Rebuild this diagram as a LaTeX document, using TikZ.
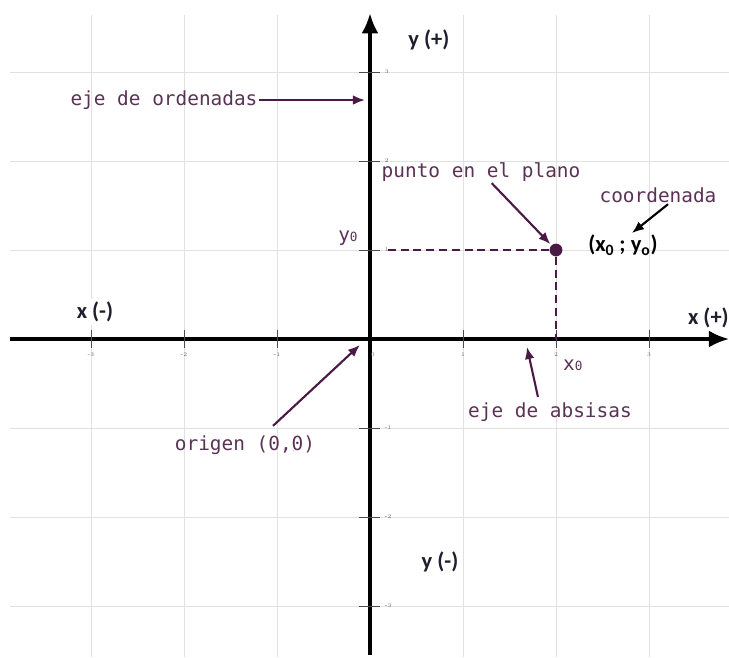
\documentclass[tikz,border=0pt]{standalone}
\usepackage{fontspec}
\setmonofont{DejaVu Sans Mono}
\setsansfont{Carlito}
\usetikzlibrary{arrows.meta, positioning}
\definecolor{DarkPurple}{RGB}{75,25,70}
\definecolor{SoftPurple}{RGB}{90,50,85}
\definecolor{GridGray}{RGB}{225,225,225}
\definecolor{DarkSlate}{RGB}{30,30,45}

\begin{document}
\begin{tikzpicture}[x=2.325cm, y=2.225cm,
    etiqueta/.style={font=\ttfamily\fontsize{13.8}{16}\selectfont, text=SoftPurple, inner sep=1pt},
    signo/.style={font=\sffamily\bfseries\fontsize{16}{19}\selectfont, text=DarkSlate, fill=white, inner sep=2pt},
    flecha/.style={DarkPurple, line width=1.5pt, -{Latex[length=3mm, width=2.4mm]}},
    eje/.style={black, line width=2.2pt, -{Latex[length=5mm, width=4.2mm]}},
    marca/.style={font=\fontsize{4}{4}\selectfont, text=black!60, inner sep=0.5pt}]

\useasboundingbox (-3.978,-3.573) rectangle (3.860,3.809);

% cuadricula
\foreach \k in {-3,-2,-1,1,2,3}{
    \draw[GridGray, line width=0.6pt] (\k,-3.573) -- (\k,3.64);
    \draw[GridGray, line width=0.6pt] (-3.87,\k) -- (3.86,\k);
}

% ejes
\draw[eje] (-3.87,0) -- (3.86,0);
\draw[eje] (0,-3.55) -- (0,3.66);
\foreach \k in {-3,-2,-1,1,2,3}{
    \draw[black!70, line width=0.5pt] (\k,-0.1) -- (\k,0.1);
    \node[marca] (tx\k) at (\k,-0.18) {\k};
    \draw[black!70, line width=0.5pt] (-0.12,\k) -- (0.11,\k);
    \node[marca, anchor=west] (ty\k) at (0.15,\k) {\k};
}
\node[marca] (t0) at (0.03,-0.18) {0};

\node[signo] (ymas) at (0.634,3.36) {y (+)};
\node[signo] (ymenos) at (0.753,-2.506) {y (-)};
\node[signo] (xmenos) at (-2.957,0.303) {x (-)};
\node[signo, anchor=east, inner sep=0pt] (xmas) at (3.86,0.236) {x (+)};

% punto
\node[circle, fill=DarkPurple, inner sep=0pt, minimum size=3.2mm] (punto) at (2,1) {};
\coordinate (piey) at (0.16,1);
\coordinate (piex) at (2,0);
\draw[DarkPurple, line width=1.3pt, dash pattern=on 2mm off 1.2mm] (punto) -- (piey);
\draw[DarkPurple, line width=1.3pt, dash pattern=on 2mm off 1.2mm] (punto) -- (piex);
\node[etiqueta] (y0) at (-0.237,1.13) {y{\small 0}};
\node[etiqueta] (x0) at (2.18,-0.30) {x{\small 0}};

% etiquetas
\node[etiqueta] (ordenadas) at (-2.215,2.685) {eje de ordenadas};
\coordinate (ordenadas-fin) at (-0.054,2.685);
\draw[flecha] (ordenadas.east) -- (ordenadas-fin);

\node[etiqueta] (plano) at (1.194,1.876) {punto en el plano};
\draw[flecha, shorten >=1pt] (plano) -- (punto);

\node[etiqueta] (coordenada) at (3.097,1.618) {coordenada};
\coordinate (coordenada-fin) at (2.817,1.191);
\draw[flecha, black] ([xshift=2.5mm]coordenada.south) -- (coordenada-fin);
\node[font=\sffamily\bfseries\fontsize{16}{19}\selectfont, text=black] (par) at (2.72,1.056)
    {(x\textsubscript{0} ; y\textsubscript{o})};

\node[etiqueta] (origen) at (-1.344,-1.191) {origen (0,0)};
\coordinate (origen-fin) at (-0.108,-0.067);
\draw[flecha] ([xshift=7mm, yshift=2mm]origen.north) -- (origen-fin);

\node[etiqueta] (absisas) at (1.935,-0.820) {eje de absisas};
\coordinate (absisas-fin) at (1.688,-0.09);
\draw[flecha] ([xshift=-3mm, yshift=1mm]absisas.north) -- (absisas-fin);

\end{tikzpicture}
\end{document}
